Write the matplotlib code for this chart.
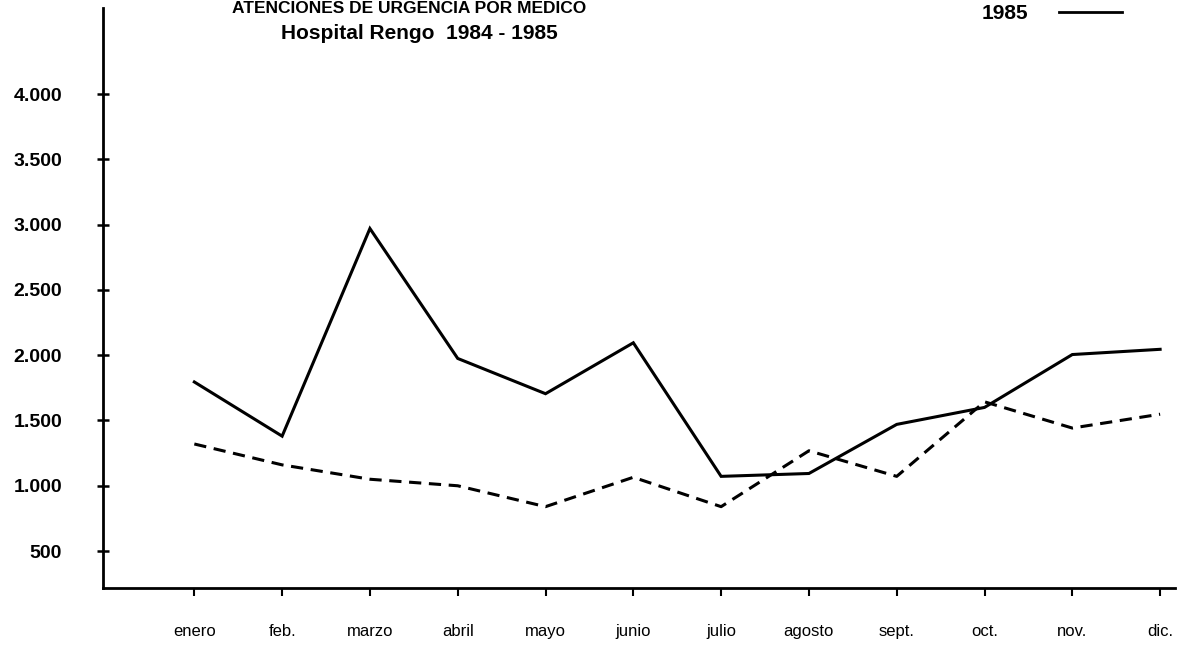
import matplotlib
matplotlib.use("Agg")
import matplotlib.pyplot as plt
from matplotlib.lines import Line2D

meses = ["enero", "feb.", "marzo", "abril", "mayo", "junio",
         "julio", "agosto", "sept.", "oct.", "nov.", "dic."]
atenciones_1985 = [1795, 1380, 2970, 1975, 1705, 2095,
                   1072, 1094, 1470, 1600, 2005, 2045]
atenciones_1984 = [1320, 1160, 1050, 1000, 840, 1065,
                   840, 1268, 1072, 1643, 1442, 1548]
y_ticks = [500, 1000, 1500, 2000, 2500, 3000, 3500, 4000]
y_labels = ["500", "1.000", "1.500", "2.000", "2.500", "3.000", "3.500", "4.000"]

sans = ["Liberation Sans", "DejaVu Sans"]

fig = plt.figure(figsize=(11.8, 6.54), dpi=100)
ax = fig.add_axes([0.0873, 0.1009, 0.9085, 0.8869])

x = list(range(len(meses)))
ax.plot(x, atenciones_1985, color="black", lw=2.2, solid_joinstyle="miter")
ax.plot(x, atenciones_1984, color="black", lw=2.2, dashes=(4, 2.5))

ax.set_xlim(-1.04, 11.17)
ax.set_ylim(217, 4659)

for s in ["top", "right"]:
    ax.spines[s].set_visible(False)
for s in ["left", "bottom"]:
    ax.spines[s].set_linewidth(2)

ax.set_yticks(y_ticks)
ax.set_yticklabels(y_labels, fontfamily=sans, fontweight="bold", fontsize=14)
ax.tick_params(axis="y", direction="inout", length=9, width=1.8, pad=25)

ax.set_xticks(x)
ax.set_xticklabels(meses, fontfamily=sans, fontsize=12)
ax.tick_params(axis="x", direction="out", length=6, width=1.5, pad=20)

# primera linea del titulo (en el original queda casi cortada arriba)
fig.text(0.347, 0.998, "ATENCIONES DE URGENCIA POR MEDICO", ha="center",
         va="top", fontfamily=sans, fontweight="bold", fontsize=12.5)
fig.text(0.355, 0.94, "Hospital Rengo  1984 - 1985", ha="center",
         va="baseline", fontfamily=sans, fontweight="bold", fontsize=15)

handle = Line2D([], [], color="black", lw=2)
ax.legend([handle], ["1985"], markerfirst=False, frameon=False,
          loc="center left", bbox_to_anchor=(0.802, 0.99),
          handlelength=3.0, handletextpad=1.5,
          prop={"family": sans, "weight": "bold", "size": 15})

fig.savefig("out.png", dpi=100)
